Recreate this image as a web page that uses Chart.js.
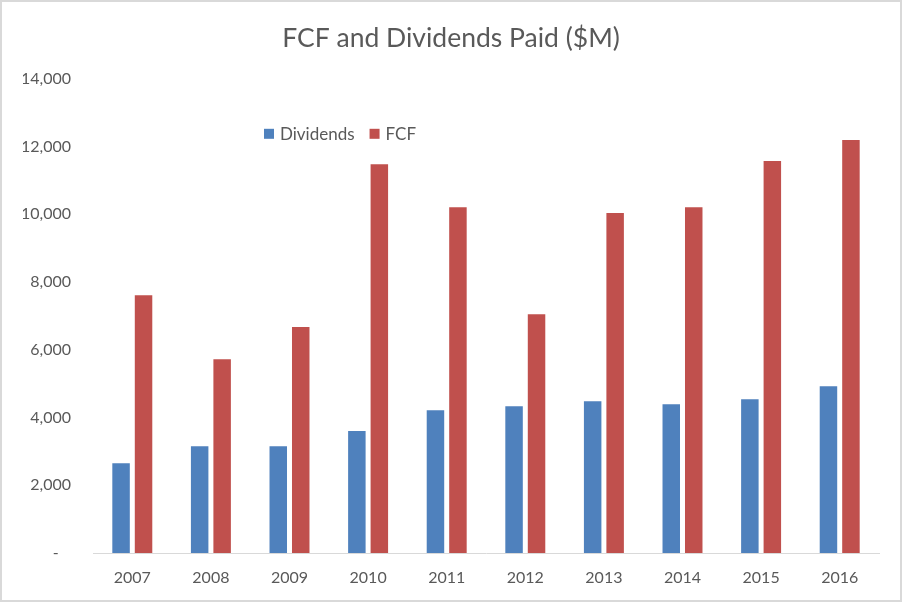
<!DOCTYPE html>
<html>
<head>
<meta charset="utf-8">
<script src="https://cdn.jsdelivr.net/npm/chart.js@4.4.1/dist/chart.umd.min.js"></script>
<style>
  html, body { margin: 0; padding: 0; background: #fff; }
  #wrap { width: 902px; height: 602px; box-sizing: border-box; border: 2px solid #d9d9d9; background: #fff; }
  canvas { display: block; }
</style>
</head>
<body>
<div id="wrap"><canvas id="chart" width="898" height="598"></canvas></div>
<script>
const years = ['2007', '2008', '2009', '2010', '2011', '2012', '2013', '2014', '2015', '2016']
const dividends = [2650, 3150, 3150, 3600, 4215, 4335, 4480, 4390, 4540, 4925]
const fcf = [7610, 5720, 6670, 11480, 10210, 7050, 10035, 10210, 11570, 12190]
const yMax = 14000
const yStep = 2000

const textColor = '#595959'
const font = 'Lato'

// legend sits inside the plot area, left of centre, like the Excel original
const insideLegend = {
  id: 'insideLegend',
  afterDraw(chart) {
    const ctx = chart.ctx
    const area = chart.chartArea
    let x = area.left + 171
    const y = area.top + 55
    ctx.save()
    ctx.font = '17px ' + font
    ctx.textBaseline = 'middle'
    ctx.textAlign = 'left'
    chart.data.datasets.forEach(ds => {
      ctx.fillStyle = ds.backgroundColor
      ctx.fillRect(x, y - 5, 10, 10)
      ctx.fillStyle = textColor
      ctx.fillText(ds.label, x + 16, y + 1)
      x += 16 + ctx.measureText(ds.label).width + 15
    })
    ctx.restore()
  }
}

new Chart(document.getElementById('chart').getContext('2d'), {
  type: 'bar',
  data: {
    labels: years,
    datasets: [
      {
        label: 'Dividends',
        data: dividends,
        backgroundColor: '#4f81bd',
        categoryPercentage: 0.572,
        barPercentage: 0.778
      },
      {
        label: 'FCF',
        data: fcf,
        backgroundColor: '#c0504d',
        categoryPercentage: 0.572,
        barPercentage: 0.778
      }
    ]
  },
  options: {
    responsive: false,
    animation: false,
    // equal side padding keeps the title centred on the whole image
    layout: { padding: { left: 21, right: 21, top: 0, bottom: 0 } },
    plugins: {
      legend: { display: false },
      tooltip: { enabled: false },
      title: {
        display: true,
        text: 'FCF and Dividends Paid ($M)',
        color: textColor,
        font: { family: font, size: 26.5, weight: 'normal' },
        padding: { top: 21, bottom: 24 }
      }
    },
    scales: {
      x: {
        grid: { display: false, drawTicks: false },
        border: { display: true, color: '#d9d9d9', width: 1 },
        ticks: { color: textColor, font: { family: font, size: 16 }, padding: 15 },
        afterFit(scale) { scale.height = 47 }
      },
      y: {
        min: 0,
        max: yMax,
        grid: { display: false, drawTicks: false },
        border: { display: false },
        ticks: {
          stepSize: yStep,
          color: textColor,
          font: { family: font, size: 16 },
          padding: 22,
          callback: v => v === 0 ? '-   ' : v.toLocaleString('en-US')
        },
        afterFit(scale) { scale.width = 70 }
      }
    }
  },
  plugins: [insideLegend]
})
</script>
</body>
</html>
